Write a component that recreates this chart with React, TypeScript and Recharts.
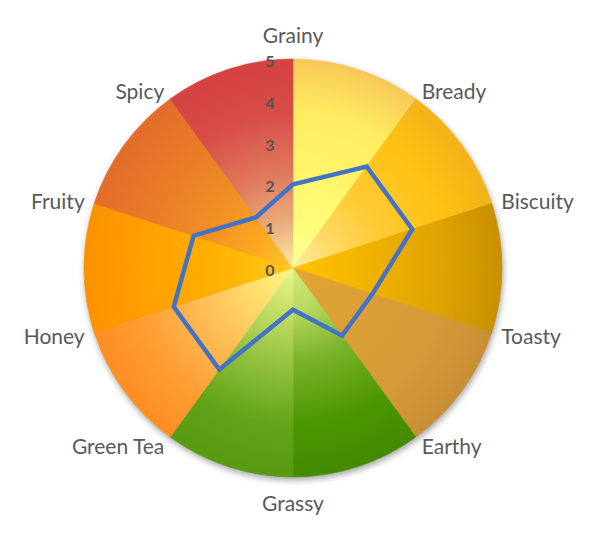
import { PieChart, Pie, Cell, RadarChart, Radar, PolarAngleAxis, PolarRadiusAxis } from "recharts"

// flavour wheel categories, clockwise from the top
const categories = ["Grainy", "Bready", "Biscuity", "Toasty", "Earthy", "Grassy", "Green Tea", "Honey", "Fruity", "Spicy"]
const scores = [2, 3, 3, 2, 2, 1, 3, 3, 2.5, 1.5]
const wedgeShares = [1, 1, 1, 1, 1, 1, 1, 1, 1, 1]
const radiusTicks = [0, 1, 2, 3, 4, 5]

const W = 600
const H = 545
const CX = 293
const CY = 268
const R = 209
const noMargin = { top: 0, right: 0, bottom: 0, left: 0 }

// radial colour stops for each background wedge (center -> rim)
const stopOffsets = [0, 0.2, 0.45, 0.75, 1]
const wedgeColors = [
    ["#FFFF98", "#FFFD7C", "#FFF66C", "#FFEC60", "#F8C858"],
    ["#FFEEAA", "#FFDA66", "#FFCA34", "#FFC112", "#F2B21A"],
    ["#FFC400", "#F8BA00", "#EDAE00", "#DDA200", "#C89000"],
    ["#E4A630", "#DEA234", "#DA9E36", "#D49A38", "#C88E34"],
    ["#D6EA7C", "#B8D860", "#7AB228", "#4C9602", "#448A00"],
    ["#EEF68A", "#C8E068", "#96C440", "#62A418", "#589A10"],
    ["#FFF488", "#FFE070", "#FFC058", "#FF9E34", "#FF8E22"],
    ["#FFC81A", "#FFBC0C", "#FFAC00", "#FF9E00", "#FA9200"],
    ["#FFC82A", "#FCA820", "#F08E24", "#E87A28", "#E26C2A"],
    ["#FFF0A6", "#EAB27E", "#E07A5C", "#D84C46", "#D44242"],
]

const wheelData = categories.map((name, i) => ({ name, share: wedgeShares[i] }))
const radarData = categories.map((name, i) => ({ name, value: scores[i] }))

function AngleTick(props: any) {
    const { x, y, payload, textAnchor } = props
    const dx = x - CX
    const dy = y - CY
    const len = Math.hypot(dx, dy) || 1
    const push = textAnchor === "middle" ? 17 : 2
    return (
        <text
            x={x + (dx / len) * push}
            y={y + (dy / len) * push}
            textAnchor={textAnchor}
            dominantBaseline="central"
            fontFamily="Lato"
            fontSize={21}
            fill="#595959"
        >
            {payload.value}
        </text>
    )
}

function RadiusTick(props: any) {
    const { x, y, payload } = props
    return (
        <text
            x={x - 23}
            y={y + 1.5}
            textAnchor="middle"
            dominantBaseline="central"
            fontFamily="Lato"
            fontWeight="bold"
            fontSize={16}
            fill="#555555"
        >
            {payload.value}
        </text>
    )
}

export default function App() {
    return (
        <div style={{ position: "absolute", left: 0, top: 0, width: W, height: H, background: "#fff" }}>
            <div style={{ position: "absolute", left: 0, top: 0, filter: "drop-shadow(1px 3px 3px rgba(0,0,0,0.35))" }}>
                <PieChart width={W} height={H} margin={noMargin}>
                    <defs>
                        {wedgeColors.map((stops, i) => (
                            <radialGradient key={i} id={`wedge${i}`} gradientUnits="userSpaceOnUse" cx={CX} cy={CY} r={R}>
                                {stops.map((c, j) => (
                                    <stop key={j} offset={stopOffsets[j]} stopColor={c} />
                                ))}
                            </radialGradient>
                        ))}
                    </defs>
                    <Pie
                        data={wheelData}
                        dataKey="share"
                        cx={CX}
                        cy={CY}
                        innerRadius={0}
                        outerRadius={R}
                        startAngle={90}
                        endAngle={-270}
                        isAnimationActive={false}
                    >
                        {wheelData.map((entry, i) => (
                            <Cell key={`cell-${i}`} fill={`url(#wedge${i})`} stroke={`url(#wedge${i})`} strokeWidth={0.6} />
                        ))}
                    </Pie>
                </PieChart>
            </div>
            <div style={{ position: "absolute", left: 0, top: 0 }}>
                <RadarChart
                    width={W}
                    height={H}
                    data={radarData}
                    margin={noMargin}
                    cx={CX}
                    cy={CY}
                    outerRadius={R}
                    startAngle={90}
                    endAngle={-270}
                >
                    <PolarAngleAxis dataKey="name" axisLine={false} tickLine={false} tick={AngleTick} />
                    <PolarRadiusAxis
                        angle={90}
                        type="number"
                        domain={[0, 5]}
                        ticks={radiusTicks as any}
                        tickCount={6}
                        axisLine={false}
                        tickLine={false}
                        tick={RadiusTick}
                    />
                    <Radar
                        dataKey="value"
                        stroke="#4472C4"
                        strokeWidth={4.5}
                        fill="none"
                        fillOpacity={0}
                        dot={false}
                        isAnimationActive={false}
                    />
                </RadarChart>
            </div>
        </div>
    )
}
